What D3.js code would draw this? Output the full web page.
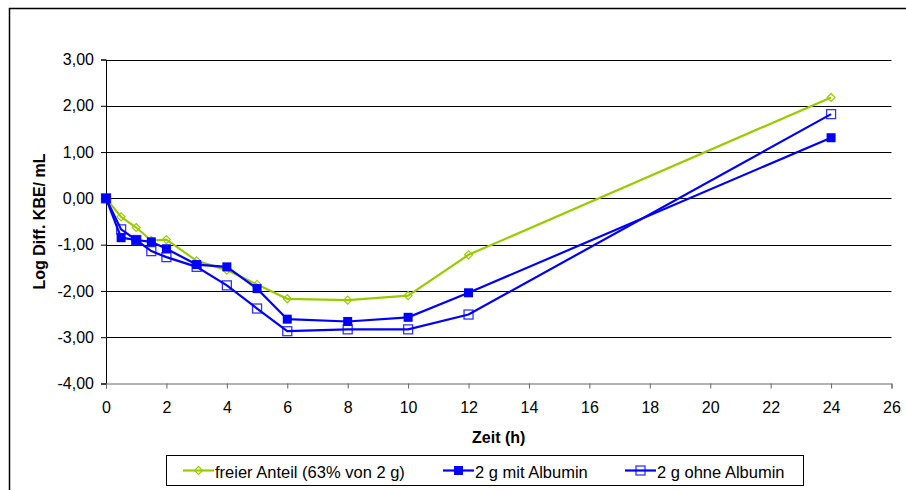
<!DOCTYPE html>
<html><head><meta charset="utf-8">
<script src="https://cdn.jsdelivr.net/npm/d3@7"></script>
<style>body{margin:0;background:#fff;}svg{display:block;font-family:"Liberation Sans",Arial,sans-serif;}</style>
</head><body>
<svg id="c" width="906" height="490"></svg>
<script>
const times = [0, 0.5, 1, 1.5, 2, 3, 4, 5, 6, 8, 10, 12, 24];
const freierAnteil = [0, -0.40, -0.63, -0.91, -0.89, -1.35, -1.55, -1.86, -2.17, -2.20, -2.10, -1.22, 2.18];
const mitAlbumin   = [0, -0.85, -0.90, -0.94, -1.09, -1.43, -1.48, -1.95, -2.61, -2.66, -2.57, -2.04, 1.31];
const ohneAlbumin  = [0, -0.67, -0.90, -1.14, -1.27, -1.48, -1.88, -2.38, -2.87, -2.83, -2.83, -2.51, 1.82];
const seriesNames = ["freier Anteil (63% von 2 g)", "2 g mit Albumin", "2 g ohne Albumin"];
const xTicks = [0,2,4,6,8,10,12,14,16,18,20,22,24,26];
const yTicks = [-4,-3,-2,-1,0,1,2,3];

const series = [
  {name: seriesNames[0], values: freierAnteil, color: "#99CC00", marker: "diamond"},
  {name: seriesNames[1], values: mitAlbumin, color: "#0000FF", marker: "filled"},
  {name: seriesNames[2], values: ohneAlbumin, color: "#0000FF", marker: "open"}
];

const svg = d3.select("#c");
const loc = d3.formatLocale({decimal: ",", thousands: ".", grouping: [3], currency: ["", "€"], minus: "-"});
const fmt = loc.format(".2f");

const x = d3.scaleLinear().domain([0, 26]).range([106, 891.5]);
const y = d3.scaleLinear().domain([-4, 3]).range([383.5, 59.5]);

// outer border
svg.append("rect").attr("x", 9.5).attr("y", 8.5).attr("width", 910).attr("height", 500)
  .attr("fill", "none").attr("stroke", "#000").attr("stroke-width", 1.5);

// gridlines
svg.append("g").selectAll("line").data(yTicks.filter(d => d > -4)).join("line")
  .attr("x1", x(0)).attr("x2", x(26))
  .attr("y1", d => Math.round(y(d)) + 0.5).attr("y2", d => Math.round(y(d)) + 0.5)
  .attr("stroke", "#000").attr("stroke-width", 1);

// axes
const yAxis = d3.axisLeft(y).tickValues(yTicks).tickFormat(fmt).tickSize(5).tickPadding(7);
const gy = svg.append("g").attr("transform", `translate(${x(0)},0)`).call(yAxis);
const xAxis = d3.axisBottom(x).tickValues(xTicks).tickFormat(d3.format("d")).tickSize(5).tickPadding(13);
const gx = svg.append("g").attr("transform", `translate(0,${y(-4)})`).call(xAxis);
[gx, gy].forEach(g => {
  g.selectAll("text").attr("font-size", 16).attr("fill", "#000").attr("font-family", "Liberation Sans, Arial, sans-serif");
  g.selectAll("line").attr("stroke", "#000");
  g.select(".domain").attr("stroke", "#000");
});
gx.select(".domain").attr("stroke", "#666");
gx.selectAll("line").attr("stroke", "#666");

// titles
svg.append("text").attr("x", (x(0) + x(26)) / 2).attr("y", 443).attr("text-anchor", "middle")
  .attr("font-size", 16).attr("font-weight", "bold").text("Zeit (h)");
svg.append("text").attr("transform", `translate(45,${(y(3) + y(-4)) / 2}) rotate(-90)`).attr("text-anchor", "middle")
  .attr("font-size", 16).attr("font-weight", "bold").text("Log Diff. KBE/ mL");

function drawMarker(g, type, color, cx, cy) {
  if (type === "diamond") {
    g.append("path").attr("d", `M${cx},${cy-4}L${cx+4},${cy}L${cx},${cy+4}L${cx-4},${cy}Z`)
      .attr("fill", "none").attr("stroke", color).attr("stroke-width", 1.2);
  } else if (type === "filled") {
    g.append("rect").attr("x", cx - 4.5).attr("y", cy - 4.5).attr("width", 9).attr("height", 9).attr("fill", color);
  } else {
    g.append("rect").attr("x", cx - 4.5).attr("y", cy - 4.5).attr("width", 9).attr("height", 9)
      .attr("fill", "none").attr("stroke", color).attr("stroke-width", 1.3).attr("stroke-opacity", 0.8);
  }
}

const line = d3.line().x(d => x(d[0])).y(d => y(d[1]));
series.forEach(s => {
  const pts = times.map((t, i) => [t, s.values[i]]);
  const g = svg.append("g");
  g.append("path").attr("d", line(pts)).attr("fill", "none").attr("stroke", s.color).attr("stroke-width", 2.2);
  pts.forEach(p => drawMarker(g, s.marker, s.color, x(p[0]), y(p[1])));
});

// legend
const lg = svg.append("g");
lg.append("rect").attr("x", 166.5).attr("y", 455.5).attr("width", 637).attr("height", 30)
  .attr("fill", "#fff").attr("stroke", "#000").attr("stroke-width", 1);
const legX = [183, 443, 625];
series.forEach((s, i) => {
  const lx = legX[i], ly = 470.5;
  lg.append("line").attr("x1", lx).attr("x2", lx + 31).attr("y1", ly).attr("y2", ly)
    .attr("stroke", s.color).attr("stroke-width", 2.2);
  drawMarker(lg, s.marker, s.color, lx + 15.5, ly);
  lg.append("text").attr("x", lx + 32).attr("y", 477.5).attr("font-size", 16.5).text(s.name);
});
</script>
</body></html>
